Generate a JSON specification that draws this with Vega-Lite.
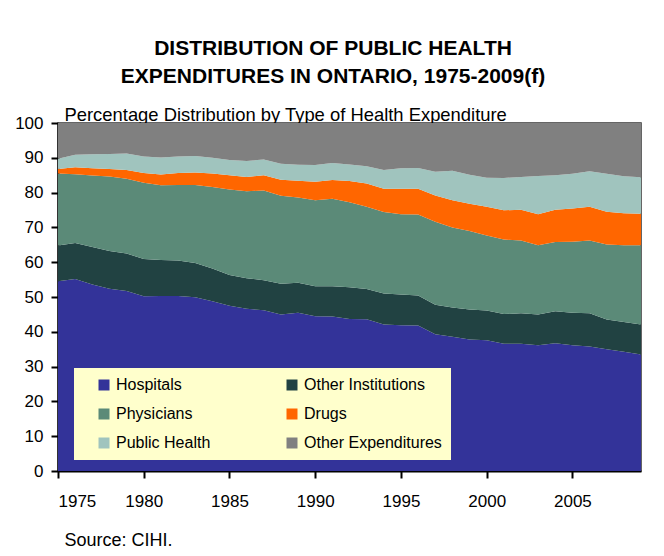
{
  "$schema": "https://vega.github.io/schema/vega-lite/v6.json",
  "width": 583,
  "height": 348,
  "autosize": {"type": "none"},
  "padding": {"left": 58, "top": 123, "right": 23, "bottom": 85},
  "background": "white",
  "title": {
    "text": ["DISTRIBUTION OF PUBLIC HEALTH", "EXPENDITURES IN ONTARIO, 1975-2009(f)"],
    "font": "Liberation Sans",
    "fontSize": 21,
    "fontWeight": "bold",
    "color": "black",
    "lineHeight": 28,
    "anchor": "middle",
    "frame": "group",
    "dx": -16.5,
    "offset": 18
  },
  "config": {
    "font": "Liberation Sans",
    "view": {"stroke": "#333333", "strokeWidth": 1.5}
  },
  "datasets": {
    "categories": [
      {"type": "Hospitals", "stackRank": 1},
      {"type": "Other Institutions", "stackRank": 2},
      {"type": "Physicians", "stackRank": 3},
      {"type": "Drugs", "stackRank": 4},
      {"type": "Public Health", "stackRank": 5},
      {"type": "Other Expenditures", "stackRank": 6}
    ]
  },
  "data": {
    "values": [
      {"year":1975,"type":"Hospitals","pct":54.5},{"year":1975,"type":"Other Institutions","pct":10.3},{"year":1975,"type":"Physicians","pct":20.7},{"year":1975,"type":"Drugs","pct":1.3},{"year":1975,"type":"Public Health","pct":2.9},{"year":1975,"type":"Other Expenditures","pct":10.3},
      {"year":1976,"type":"Hospitals","pct":55.2},{"year":1976,"type":"Other Institutions","pct":10.3},{"year":1976,"type":"Physicians","pct":19.8},{"year":1976,"type":"Drugs","pct":2.0},{"year":1976,"type":"Public Health","pct":3.6},{"year":1976,"type":"Other Expenditures","pct":9.1},
      {"year":1977,"type":"Hospitals","pct":53.6},{"year":1977,"type":"Other Institutions","pct":10.8},{"year":1977,"type":"Physicians","pct":20.5},{"year":1977,"type":"Drugs","pct":2.1},{"year":1977,"type":"Public Health","pct":4.0},{"year":1977,"type":"Other Expenditures","pct":9.0},
      {"year":1978,"type":"Hospitals","pct":52.4},{"year":1978,"type":"Other Institutions","pct":10.8},{"year":1978,"type":"Physicians","pct":21.4},{"year":1978,"type":"Drugs","pct":2.2},{"year":1978,"type":"Public Health","pct":4.3},{"year":1978,"type":"Other Expenditures","pct":8.9},
      {"year":1979,"type":"Hospitals","pct":51.7},{"year":1979,"type":"Other Institutions","pct":10.8},{"year":1979,"type":"Physicians","pct":21.5},{"year":1979,"type":"Drugs","pct":2.5},{"year":1979,"type":"Public Health","pct":4.7},{"year":1979,"type":"Other Expenditures","pct":8.8},
      {"year":1980,"type":"Hospitals","pct":50.2},{"year":1980,"type":"Other Institutions","pct":10.7},{"year":1980,"type":"Physicians","pct":21.9},{"year":1980,"type":"Drugs","pct":2.8},{"year":1980,"type":"Public Health","pct":4.8},{"year":1980,"type":"Other Expenditures","pct":9.6},
      {"year":1981,"type":"Hospitals","pct":50.3},{"year":1981,"type":"Other Institutions","pct":10.3},{"year":1981,"type":"Physicians","pct":21.5},{"year":1981,"type":"Drugs","pct":3.1},{"year":1981,"type":"Public Health","pct":4.9},{"year":1981,"type":"Other Expenditures","pct":9.9},
      {"year":1982,"type":"Hospitals","pct":50.3},{"year":1982,"type":"Other Institutions","pct":10.2},{"year":1982,"type":"Physicians","pct":21.7},{"year":1982,"type":"Drugs","pct":3.4},{"year":1982,"type":"Public Health","pct":4.8},{"year":1982,"type":"Other Expenditures","pct":9.6},
      {"year":1983,"type":"Hospitals","pct":49.9},{"year":1983,"type":"Other Institutions","pct":9.9},{"year":1983,"type":"Physicians","pct":22.4},{"year":1983,"type":"Drugs","pct":3.6},{"year":1983,"type":"Public Health","pct":4.7},{"year":1983,"type":"Other Expenditures","pct":9.5},
      {"year":1984,"type":"Hospitals","pct":48.8},{"year":1984,"type":"Other Institutions","pct":9.4},{"year":1984,"type":"Physicians","pct":23.4},{"year":1984,"type":"Drugs","pct":3.9},{"year":1984,"type":"Public Health","pct":4.5},{"year":1984,"type":"Other Expenditures","pct":10.0},
      {"year":1985,"type":"Hospitals","pct":47.5},{"year":1985,"type":"Other Institutions","pct":8.8},{"year":1985,"type":"Physicians","pct":24.6},{"year":1985,"type":"Drugs","pct":4.1},{"year":1985,"type":"Public Health","pct":4.4},{"year":1985,"type":"Other Expenditures","pct":10.6},
      {"year":1986,"type":"Hospitals","pct":46.6},{"year":1986,"type":"Other Institutions","pct":8.8},{"year":1986,"type":"Physicians","pct":25.0},{"year":1986,"type":"Drugs","pct":4.1},{"year":1986,"type":"Public Health","pct":4.6},{"year":1986,"type":"Other Expenditures","pct":10.9},
      {"year":1987,"type":"Hospitals","pct":46.2},{"year":1987,"type":"Other Institutions","pct":8.6},{"year":1987,"type":"Physicians","pct":25.8},{"year":1987,"type":"Drugs","pct":4.4},{"year":1987,"type":"Public Health","pct":4.5},{"year":1987,"type":"Other Expenditures","pct":10.5},
      {"year":1988,"type":"Hospitals","pct":45.0},{"year":1988,"type":"Other Institutions","pct":8.8},{"year":1988,"type":"Physicians","pct":25.3},{"year":1988,"type":"Drugs","pct":4.6},{"year":1988,"type":"Public Health","pct":4.6},{"year":1988,"type":"Other Expenditures","pct":11.7},
      {"year":1989,"type":"Hospitals","pct":45.5},{"year":1989,"type":"Other Institutions","pct":8.6},{"year":1989,"type":"Physicians","pct":24.5},{"year":1989,"type":"Drugs","pct":4.8},{"year":1989,"type":"Public Health","pct":4.6},{"year":1989,"type":"Other Expenditures","pct":12.0},
      {"year":1990,"type":"Hospitals","pct":44.5},{"year":1990,"type":"Other Institutions","pct":8.6},{"year":1990,"type":"Physicians","pct":24.7},{"year":1990,"type":"Drugs","pct":5.3},{"year":1990,"type":"Public Health","pct":4.8},{"year":1990,"type":"Other Expenditures","pct":12.1},
      {"year":1991,"type":"Hospitals","pct":44.4},{"year":1991,"type":"Other Institutions","pct":8.7},{"year":1991,"type":"Physicians","pct":25.1},{"year":1991,"type":"Drugs","pct":5.4},{"year":1991,"type":"Public Health","pct":4.9},{"year":1991,"type":"Other Expenditures","pct":11.5},
      {"year":1992,"type":"Hospitals","pct":43.7},{"year":1992,"type":"Other Institutions","pct":9.1},{"year":1992,"type":"Physicians","pct":24.4},{"year":1992,"type":"Drugs","pct":6.1},{"year":1992,"type":"Public Health","pct":4.8},{"year":1992,"type":"Other Expenditures","pct":11.9},
      {"year":1993,"type":"Hospitals","pct":43.6},{"year":1993,"type":"Other Institutions","pct":8.7},{"year":1993,"type":"Physicians","pct":23.6},{"year":1993,"type":"Drugs","pct":6.7},{"year":1993,"type":"Public Health","pct":5.0},{"year":1993,"type":"Other Expenditures","pct":12.4},
      {"year":1994,"type":"Hospitals","pct":42.1},{"year":1994,"type":"Other Institutions","pct":8.9},{"year":1994,"type":"Physicians","pct":23.4},{"year":1994,"type":"Drugs","pct":6.7},{"year":1994,"type":"Public Health","pct":5.4},{"year":1994,"type":"Other Expenditures","pct":13.5},
      {"year":1995,"type":"Hospitals","pct":41.9},{"year":1995,"type":"Other Institutions","pct":8.8},{"year":1995,"type":"Physicians","pct":23.1},{"year":1995,"type":"Drugs","pct":7.3},{"year":1995,"type":"Public Health","pct":5.9},{"year":1995,"type":"Other Expenditures","pct":13.0},
      {"year":1996,"type":"Hospitals","pct":41.8},{"year":1996,"type":"Other Institutions","pct":8.6},{"year":1996,"type":"Physicians","pct":23.3},{"year":1996,"type":"Drugs","pct":7.4},{"year":1996,"type":"Public Health","pct":6.0},{"year":1996,"type":"Other Expenditures","pct":12.9},
      {"year":1997,"type":"Hospitals","pct":39.3},{"year":1997,"type":"Other Institutions","pct":8.5},{"year":1997,"type":"Physicians","pct":23.8},{"year":1997,"type":"Drugs","pct":7.6},{"year":1997,"type":"Public Health","pct":6.8},{"year":1997,"type":"Other Expenditures","pct":14.0},
      {"year":1998,"type":"Hospitals","pct":38.6},{"year":1998,"type":"Other Institutions","pct":8.4},{"year":1998,"type":"Physicians","pct":23.0},{"year":1998,"type":"Drugs","pct":7.8},{"year":1998,"type":"Public Health","pct":8.5},{"year":1998,"type":"Other Expenditures","pct":13.7},
      {"year":1999,"type":"Hospitals","pct":37.8},{"year":1999,"type":"Other Institutions","pct":8.6},{"year":1999,"type":"Physicians","pct":22.6},{"year":1999,"type":"Drugs","pct":7.8},{"year":1999,"type":"Public Health","pct":8.3},{"year":1999,"type":"Other Expenditures","pct":14.9},
      {"year":2000,"type":"Hospitals","pct":37.6},{"year":2000,"type":"Other Institutions","pct":8.5},{"year":2000,"type":"Physicians","pct":21.6},{"year":2000,"type":"Drugs","pct":8.2},{"year":2000,"type":"Public Health","pct":8.4},{"year":2000,"type":"Other Expenditures","pct":15.7},
      {"year":2001,"type":"Hospitals","pct":36.6},{"year":2001,"type":"Other Institutions","pct":8.5},{"year":2001,"type":"Physicians","pct":21.4},{"year":2001,"type":"Drugs","pct":8.4},{"year":2001,"type":"Public Health","pct":9.3},{"year":2001,"type":"Other Expenditures","pct":15.8},
      {"year":2002,"type":"Hospitals","pct":36.6},{"year":2002,"type":"Other Institutions","pct":8.7},{"year":2002,"type":"Physicians","pct":20.9},{"year":2002,"type":"Drugs","pct":8.9},{"year":2002,"type":"Public Health","pct":9.4},{"year":2002,"type":"Other Expenditures","pct":15.5},
      {"year":2003,"type":"Hospitals","pct":36.1},{"year":2003,"type":"Other Institutions","pct":8.9},{"year":2003,"type":"Physicians","pct":19.9},{"year":2003,"type":"Drugs","pct":8.9},{"year":2003,"type":"Public Health","pct":11.0},{"year":2003,"type":"Other Expenditures","pct":15.2},
      {"year":2004,"type":"Hospitals","pct":36.7},{"year":2004,"type":"Other Institutions","pct":9.2},{"year":2004,"type":"Physicians","pct":19.9},{"year":2004,"type":"Drugs","pct":9.3},{"year":2004,"type":"Public Health","pct":9.9},{"year":2004,"type":"Other Expenditures","pct":15.0},
      {"year":2005,"type":"Hospitals","pct":36.1},{"year":2005,"type":"Other Institutions","pct":9.4},{"year":2005,"type":"Physicians","pct":20.4},{"year":2005,"type":"Drugs","pct":9.5},{"year":2005,"type":"Public Health","pct":10.0},{"year":2005,"type":"Other Expenditures","pct":14.6},
      {"year":2006,"type":"Hospitals","pct":35.8},{"year":2006,"type":"Other Institutions","pct":9.5},{"year":2006,"type":"Physicians","pct":20.9},{"year":2006,"type":"Drugs","pct":9.7},{"year":2006,"type":"Public Health","pct":10.2},{"year":2006,"type":"Other Expenditures","pct":13.9},
      {"year":2007,"type":"Hospitals","pct":35.0},{"year":2007,"type":"Other Institutions","pct":8.5},{"year":2007,"type":"Physicians","pct":21.6},{"year":2007,"type":"Drugs","pct":9.4},{"year":2007,"type":"Public Health","pct":10.9},{"year":2007,"type":"Other Expenditures","pct":14.6},
      {"year":2008,"type":"Hospitals","pct":34.3},{"year":2008,"type":"Other Institutions","pct":8.5},{"year":2008,"type":"Physicians","pct":22.1},{"year":2008,"type":"Drugs","pct":9.2},{"year":2008,"type":"Public Health","pct":10.6},{"year":2008,"type":"Other Expenditures","pct":15.3},
      {"year":2009,"type":"Hospitals","pct":33.5},{"year":2009,"type":"Other Institutions","pct":8.6},{"year":2009,"type":"Physicians","pct":22.8},{"year":2009,"type":"Drugs","pct":9.0},{"year":2009,"type":"Public Health","pct":10.5},{"year":2009,"type":"Other Expenditures","pct":15.6}
    ]
  },
  "transform": [
    {"lookup": "type", "from": {"data": {"name": "categories"}, "key": "type", "fields": ["stackRank"]}}
  ],
  "mark": {"type": "area", "interpolate": "linear"},
  "encoding": {
    "x": {
      "field": "year",
      "type": "quantitative",
      "scale": {"domain": [1975, 2009], "nice": false, "zero": false},
      "axis": {
        "values": [1975, 1980, 1985, 1990, 1995, 2000, 2005],
        "format": "d",
        "grid": false,
        "domainColor": "black",
        "domainWidth": 2,
        "tickColor": "black",
        "tickWidth": 2,
        "tickSize": 7,
        "labelPadding": 15,
        "labelFontSize": 17,
        "labelColor": "black",
        "title": "Source: CIHI.",
        "titleFontSize": 18,
        "titleFontWeight": "normal",
        "titleColor": "black",
        "titleAnchor": "start",
        "titleAlign": "left",
        "titleBaseline": "alphabetic",
        "titleX": 6,
        "titleY": 74
      }
    },
    "y": {
      "field": "pct",
      "type": "quantitative",
      "stack": "zero",
      "scale": {"domain": [0, 100], "nice": false},
      "axis": {
        "values": [0, 10, 20, 30, 40, 50, 60, 70, 80, 90, 100],
        "grid": false,
        "domainColor": "black",
        "domainWidth": 2,
        "tickColor": "black",
        "tickWidth": 2,
        "tickSize": 7,
        "labelPadding": 8,
        "labelFontSize": 17,
        "labelColor": "black",
        "title": "Percentage Distribution by Type of Health Expenditure",
        "titleFontSize": 18.4,
        "titleFontWeight": "normal",
        "titleColor": "black",
        "titleAngle": 0,
        "titleAlign": "left",
        "titleBaseline": "alphabetic",
        "titleX": 6,
        "titleY": -3
      }
    },
    "order": {"field": "stackRank", "type": "quantitative", "sort": "ascending"},
    "color": {
      "field": "type",
      "type": "nominal",
      "scale": {
        "domain": ["Hospitals", "Physicians", "Public Health", "Other Institutions", "Drugs", "Other Expenditures"],
        "range": ["#333399", "#5B8A78", "#A0C4BE", "#214242", "#FF6600", "#808080"]
      },
      "legend": {
        "orient": "none",
        "legendX": 16,
        "legendY": 245,
        "title": null,
        "columns": 2,
        "columnPadding": 60,
        "rowPadding": 13,
        "padding": 9,
        "fillColor": "#FFFFCC",
        "symbolType": "square",
        "symbolSize": 121,
        "symbolStrokeWidth": 0,
        "symbolOpacity": 1,
        "symbolOffset": 13,
        "labelOffset": 4,
        "labelFontSize": 16,
        "labelColor": "black",
        "labelLimit": 300
      }
    }
  }
}
